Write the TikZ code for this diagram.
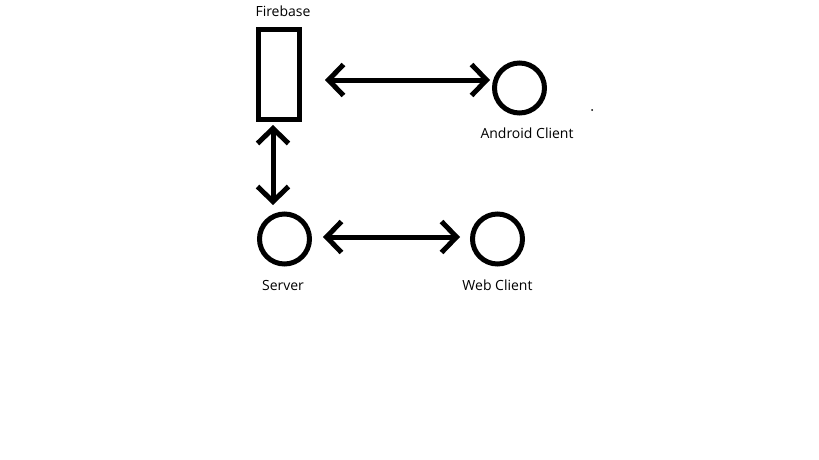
\documentclass[tikz,border=0pt]{standalone}
\usepackage{fontspec}
\setmainfont{Open Sans}
\usetikzlibrary{positioning,arrows.meta}

\begin{document}
\begin{tikzpicture}[
  x=1pt, y=-1pt,
  part/.style={draw, line width=5pt, inner sep=0pt},
  store/.style={part, rectangle, minimum width=41pt, minimum height=90pt},
  client/.style={part, circle, minimum size=50pt},
  tag/.style={inner sep=0pt, font=\fontsize{14}{16}\selectfont},
  conn/.style={line width=5pt, {Straight Barb[length=15pt,width=31pt,line width=5pt]}-{Straight Barb[length=15pt,width=31pt,line width=5pt]}}
]
\useasboundingbox (0,0) rectangle (819,460);

% ======================================================
% =============== PARTS ================================
% ======================================================
\node (fb) [store] at (279,74.5) {};
\node (android) [client] at (519.5,88) {};
\node (server) [client] at (284.5,239) {};
\node (web) [client] at (497.5,239) {};

% labels
\node[tag, above=10.5pt of fb, xshift=4pt] (fblabel) {Firebase};
\node[tag, below=12.5pt of android, xshift=7.5pt] (androidlabel) {Android Client};
\node[tag, below=13.5pt of server, xshift=-1.5pt] (serverlabel) {Server};
\node[tag, below=13pt of web] (weblabel) {Web Client};

% ======================================================
% =============== LINKS ================================
% ======================================================
\draw[conn] ([xshift=23pt,yshift=-5.5pt]fb.east) -- ([xshift=-2pt,yshift=8pt]android.west);
\draw[conn] ([xshift=-6pt,yshift=-3pt]fb.south) -- ([xshift=-11.5pt,yshift=6.5pt]server.north);
\draw[conn] ([xshift=11pt,yshift=2pt]server.east) -- ([xshift=-10pt,yshift=2pt]web.west);

% stray dot
\fill (592,110) circle (1pt);
\end{tikzpicture}
\end{document}
